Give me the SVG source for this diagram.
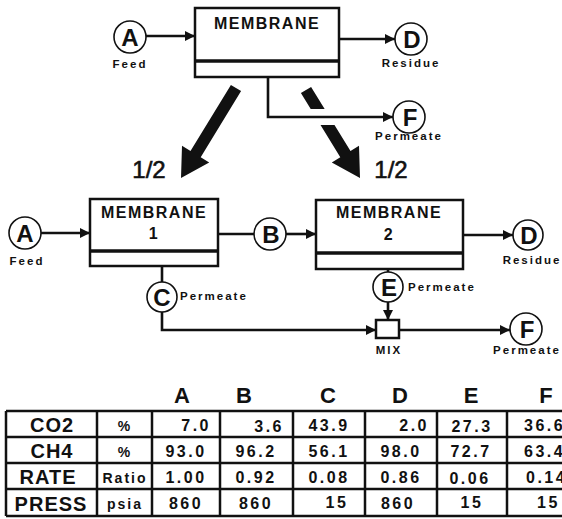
<svg xmlns="http://www.w3.org/2000/svg" width="562" height="519" viewBox="0 0 562 519">
<style>
.bx{fill:#fff;stroke:#111;stroke-width:2.5}
.dv{stroke:#111;stroke-width:3.5}
.cn{fill:#fff;stroke:#111;stroke-width:1.6}
.ln{fill:none;stroke:#111;stroke-width:2.6}
.ah{fill:#111}
.t{font-family:"Liberation Sans",Arial,sans-serif;font-weight:bold;fill:#111}
.hf{font-family:"Liberation Sans",Arial,sans-serif;font-weight:normal;fill:#111;font-size:24px;text-anchor:middle;stroke:#111;stroke-width:0.6}
.mb{font-size:16px;letter-spacing:1.5px;text-anchor:middle}
.cl{font-size:24px;text-anchor:middle}
.sm{font-size:11.5px;letter-spacing:2px}
.hd{font-size:22px;text-anchor:middle}
.rl{font-size:20px;letter-spacing:1px;text-anchor:middle}
.un{font-size:14px;letter-spacing:2px;text-anchor:middle}
.v{font-size:16px;letter-spacing:2.5px}
.tb{fill:none;stroke:#111;stroke-width:2.5}
</style>
<defs>
<marker id="ar" viewBox="0 0 10 10" refX="10" refY="5" markerWidth="4" markerHeight="4" orient="auto" markerUnits="strokeWidth">
<path d="M0,0 L10,5 L0,10 z" fill="#111"/>
</marker>
</defs>

<g id="connectors">
<line class="ln" x1="146" y1="36" x2="195" y2="36" marker-end="url(#ar)"/>
<line class="ln" x1="339" y1="39" x2="395" y2="39" marker-end="url(#ar)"/>
<polygon class="ah" points="241.1,91.1 200.7,157.2 209.2,162.4 181,178 182,145.8 190.5,151 230.9,84.9"/>
<polygon class="ah" points="311.1,86.9 350.5,151 359,145.7 360,178 331.8,162.5 340.3,157.2 300.9,93.1"/>
<line x1="300" y1="117" x2="350" y2="117" stroke="#fff" stroke-width="16"/>
<path class="ln" d="M268,77 V117 H393" marker-end="url(#ar)"/>
<line class="ln" x1="41" y1="233" x2="90" y2="233" marker-end="url(#ar)"/>
<line class="ln" x1="218" y1="234" x2="254" y2="234"/>
<line class="ln" x1="286" y1="234" x2="316" y2="234" marker-end="url(#ar)"/>
<line class="ln" x1="463" y1="235" x2="513" y2="235" marker-end="url(#ar)"/>
<line class="ln" x1="162" y1="266" x2="162" y2="282"/>
<path class="ln" d="M162,312 V330 H376" marker-end="url(#ar)"/>
<line class="ln" x1="388" y1="269" x2="388" y2="272"/>
<line class="ln" x1="388" y1="302" x2="388" y2="320" marker-end="url(#ar)"/>
<line class="ln" x1="399" y1="330" x2="510" y2="330" marker-end="url(#ar)"/>
</g>

<g id="membrane-top">
<rect class="bx" x="195" y="8" width="144" height="69"/>
<line class="dv" x1="195" y1="61" x2="339" y2="61"/>
<text class="t mb" x="267" y="29">MEMBRANE</text>
</g>
<g id="feed-top">
<circle class="cn" cx="130" cy="37" r="16"/>
<text class="t cl" x="130" y="45.5">A</text>
<text class="t sm" x="130" y="68" text-anchor="middle">Feed</text>
</g>
<g id="residue-top">
<circle class="cn" cx="411" cy="39" r="16"/>
<text class="t cl" x="412" y="47.5">D</text>
<text class="t sm" x="411" y="67" text-anchor="middle">Residue</text>
</g>
<g id="permeate-top">
<circle class="cn" cx="409" cy="117" r="16"/>
<text class="t cl" x="410" y="125.5">F</text>
<text class="t sm" x="409" y="140" text-anchor="middle">Permeate</text>
</g>
<text class="hf" x="149" y="178">1/2</text>
<text class="hf" x="391" y="178">1/2</text>

<g id="feed-mid">
<circle class="cn" cx="25" cy="233" r="16"/>
<text class="t cl" x="25" y="241.5">A</text>
<text class="t sm" x="27" y="265" text-anchor="middle">Feed</text>
</g>
<g id="membrane-1">
<rect class="bx" x="90" y="199" width="128" height="67"/>
<line class="dv" x1="90" y1="251" x2="218" y2="251"/>
<text class="t mb" x="154" y="218">MEMBRANE</text>
<text class="t mb" x="154" y="239">1</text>
</g>
<g id="stream-b">
<circle class="cn" cx="270" cy="234" r="16"/>
<text class="t cl" x="271" y="242.5">B</text>
</g>
<g id="membrane-2">
<rect class="bx" x="316" y="200" width="147" height="69"/>
<line class="dv" x1="316" y1="253" x2="463" y2="253"/>
<text class="t mb" x="389" y="218">MEMBRANE</text>
<text class="t mb" x="389" y="240">2</text>
</g>
<g id="residue-mid">
<circle class="cn" cx="528" cy="235" r="15"/>
<text class="t cl" x="529" y="243.5">D</text>
<text class="t sm" x="532" y="264" text-anchor="middle">Residue</text>
</g>
<g id="stream-c">
<circle class="cn" cx="162" cy="297" r="15"/>
<text class="t cl" x="162" y="305.5">C</text>
<text class="t sm" x="180" y="300">Permeate</text>
</g>
<g id="stream-e">
<circle class="cn" cx="388" cy="287" r="15"/>
<text class="t cl" x="389" y="295.5">E</text>
<text class="t sm" x="408" y="291">Permeate</text>
</g>
<g id="mix">
<rect class="bx" x="376" y="320" width="23" height="18"/>
<text class="t sm" x="389" y="354" text-anchor="middle">MIX</text>
</g>
<g id="permeate-mid">
<circle class="cn" cx="526" cy="329" r="16"/>
<text class="t cl" x="527" y="337.5">F</text>
<text class="t sm" x="527" y="354" text-anchor="middle">Permeate</text>
</g>

<g id="table">
<text class="t hd" x="182" y="403">A</text>
<text class="t hd" x="244" y="403">B</text>
<text class="t hd" x="328" y="403">C</text>
<text class="t hd" x="400" y="403">D</text>
<text class="t hd" x="471" y="403">E</text>
<text class="t hd" x="546" y="403">F</text>
<path class="tb" d="M6,411 H565 M6,437 H565 M6,463 H565 M6,489 H565 M6,516 H565 M6,411 V516 M97,411 V516 M152,411 V516 M220,411 V516 M293,411 V516 M365,411 V516 M437,411 V516 M507,411 V516"/>
<text class="t rl" x="52" y="432">CO2</text>
<text class="t rl" x="52" y="458">CH4</text>
<text class="t rl" x="48" y="484">RATE</text>
<text class="t rl" x="51" y="511">PRESS</text>
<text class="t un" x="125" y="431">%</text>
<text class="t un" x="125" y="457">%</text>
<text class="t un" x="125" y="483">Ratio</text>
<text class="t un" x="125" y="509">psia</text>
<g class="t v">
<text x="211" y="431" text-anchor="end">7.0</text>
<text x="186" y="457" text-anchor="middle">93.0</text>
<text x="186" y="483" text-anchor="middle">1.00</text>
<text x="186" y="509" text-anchor="middle">860</text>
<text x="284" y="432" text-anchor="end">3.6</text>
<text x="256" y="457" text-anchor="middle">96.2</text>
<text x="256" y="483" text-anchor="middle">0.92</text>
<text x="256" y="509" text-anchor="middle">860</text>
<text x="329" y="431" text-anchor="middle">43.9</text>
<text x="329" y="457" text-anchor="middle">56.1</text>
<text x="329" y="483" text-anchor="middle">0.08</text>
<text x="337" y="508" text-anchor="middle">15</text>
<text x="429" y="431" text-anchor="end">2.0</text>
<text x="401" y="457" text-anchor="middle">98.0</text>
<text x="401" y="483" text-anchor="middle">0.86</text>
<text x="398" y="509" text-anchor="middle">860</text>
<text x="472" y="432" text-anchor="middle">27.3</text>
<text x="471" y="457" text-anchor="middle">72.7</text>
<text x="470" y="484" text-anchor="middle">0.06</text>
<text x="472" y="508" text-anchor="middle">15</text>
<text x="524" y="431">36.6</text>
<text x="524" y="457">63.4</text>
<text x="526" y="483">0.14</text>
<text x="537" y="508">15</text>
</g>
</g>
</svg>
